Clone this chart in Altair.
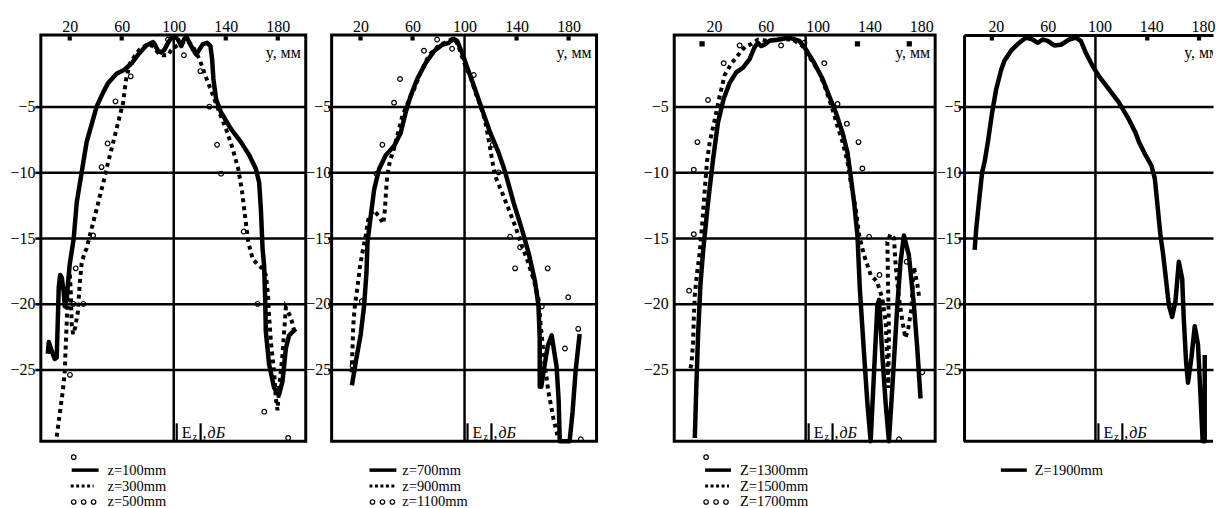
import altair as alt
import pandas as pd

FONT = "Liberation Serif"
Y_MIN, Y_MAX = -30.45, 0.45
PLOT_H = 408
X_LABELS = [20, 60, 100, 140, 180]
Y_TICKS = [-5, -10, -15, -20, -25]
GRID_MM = 100

# ---------------- Panel 1 ----------------
P1_TOP_TICKS = [20, 60, 140, 180]
P1_LABELS = ["z=100mm", "z=300mm", "z=500mm"]
P1_Z100 = [(3.2, -23.8), (3.9, -22.9), (6.2, -23.6), (8.5, -24.2), (10, -24.1), (10.8, -21.4),
           (11.6, -18.7), (12.7, -17.8), (13.9, -18.0), (15.4, -19.1), (16.2, -20.2), (17.7, -19.6),
           (20, -17), (23, -15.1), (25.4, -12.3), (29.2, -10), (33, -7.7), (40.7, -5), (45.8, -3.9),
           (49.6, -3.2), (56, -2.5), (62.1, -2.2), (68, -1.67), (72.6, -1.05), (78.9, -0.35),
           (84.1, -0.1), (85.3, -0.25), (87.9, -0.75), (90.4, -0.9), (93, -0.65), (95.6, -0.15),
           (98.1, 0.2), (100.6, 0.35), (103.2, 0.1), (105.8, -0.4), (107.8, 0.1), (109.6, 0.35),
           (112.1, -0.15), (114.7, -0.65), (117.3, -1.05), (119.8, -0.65), (122.4, -0.25),
           (125.7, -0.15), (128.2, -0.4), (129.5, -1.4), (130.5, -2.9), (132.6, -4.45),
           (136.4, -5.45), (144, -6.7), (151.7, -7.7), (158.1, -8.7), (163.2, -9.75), (165.7, -10.8),
           (167, -12.8), (168.3, -15.8), (169.5, -17.1), (170.3, -19.6), (170.8, -22.1),
           (173.3, -24.6), (177.2, -26.4), (181, -26.9), (183.6, -25.9), (186.2, -23.4),
           (188.7, -22.4), (193.8, -21.9)]
P1_Z300 = [(10, -30.1), (12.3, -28.4), (14.6, -26.7), (16.2, -25.2), (16.9, -23.3), (17.7, -21.4),
           (18.5, -19.5), (19.3, -18.0), (20, -17.6), (20.8, -19), (21.5, -21.5), (22.6, -22.3),
           (24.2, -21.8), (26.3, -20.6), (27.6, -18.6), (29.2, -16.9), (31.5, -16.1), (33, -15.8),
           (35.5, -14.8), (38.1, -13.8), (40.7, -12.8), (43.2, -11.8), (45.8, -10.8), (48.3, -9.75),
           (50.9, -8.7), (53.5, -7.7), (56, -6.7), (58.5, -5.7), (61.1, -4.7), (62.3, -3.7),
           (63.6, -2.8), (66.2, -1.75), (70, -1.15), (73.8, -0.65), (80.2, -0.25), (84, -0.4),
           (87.9, -0.9), (92, -1.1), (95.6, -1.1), (98, -0.7), (100.6, -0.5), (105, -0.2), (110, 0),
           (114, -0.3), (119.8, -1.4), (124.9, -2.8), (130, -4.1), (135.1, -5.45), (140.2, -6.7),
           (145.3, -8.2), (149.6, -9.75), (152.3, -11.3), (154.8, -13.3), (157.3, -15.3),
           (160.7, -16.6), (164.5, -17), (168, -17.3), (170.8, -17.8), (172.5, -19.3), (173.3, -20.9),
           (174.7, -22.9), (177.2, -25.2), (178.5, -27.2), (179.8, -28.1), (181, -26.4),
           (183.6, -23.9), (184.9, -22.1), (186.2, -20.3), (190, -21), (192.5, -22)]
P1_Z500 = [(20.2, -25.4), (22.8, -20), (24.6, -17.3), (30.5, -20), (38, -14.8), (44.5, -9.6),
           (49.1, -7.8), (55.2, -4.6), (66.9, -2.7), (95.6, 0.1), (107.8, -1.1), (120.5, -2.3),
           (127.4, -5), (133.3, -7.9), (136.4, -10.1), (153.8, -14.5), (164.5, -20), (169.6, -28.2),
           (188, -30.2)]

# ---------------- Panel 2 ----------------
P2_TOP_TICKS = [20, 60, 140, 180]
P2_LABELS = ["z=700mm", "z=900mm", "z=1100mm"]
P2_Z700 = [(13.4, -26.2), (16.4, -24.4), (20.2, -22.3), (22.8, -20.1), (24.6, -17.6), (25.4, -15.3),
           (27.9, -13.3), (30.5, -11.3), (34.3, -9.75), (39.4, -8.7), (45.8, -8), (50.9, -7),
           (54.7, -5.45), (58.5, -4.2), (63.6, -2.9), (70, -1.7), (76.4, -0.8), (82.8, -0.3),
           (87.9, -0.15), (91.7, 0.15), (94.3, 0), (98.1, -0.9), (102, -2), (107.1, -3.4),
           (113.4, -5.2), (119.8, -7), (126.2, -8.5), (131.3, -10), (137.7, -12.3), (144, -14.3),
           (149.2, -16.1), (154.2, -18.3), (156.8, -20.1), (157.8, -22.6), (157.8, -26.3),
           (159, -26.3), (161.5, -24.7), (164, -23.2), (167, -22.4), (170.8, -24.8), (172.4, -27.4),
           (173.2, -30.45), (180.8, -30.45), (183.1, -28.2), (185.4, -25.1), (188.5, -22.3)]
P2_Z900 = [(13.2, -25.2), (13.9, -23.2), (14.4, -21.7), (15.6, -20.2), (17.7, -18.7), (19.5, -17.2),
           (21.5, -16.1), (24, -14.8), (26.3, -13.4), (30, -12.9), (34, -13.3), (37.5, -13.9),
           (38.8, -12.8), (39.6, -11.5), (40.5, -10.3), (42.5, -9.2), (46, -8.1), (49.6, -6.7),
           (52.2, -5.7), (56.5, -4.7), (61.1, -3.7), (66.2, -2.4), (72.6, -1.1), (80.3, -0.35),
           (87.9, 0), (91.7, 0.2), (95, -0.3), (98, -1.2), (100.6, -1.9), (104.4, -2.7),
           (108.3, -3.9), (112.1, -4.9), (115.9, -6.1), (118.5, -7.5), (121.1, -9), (123.6, -10.3),
           (128.7, -11.5), (133.9, -12.8), (139, -14.1), (144.1, -15.6), (148, -16.6), (153, -18.1),
           (156.8, -19.6), (158.8, -21.9), (161.4, -24.4), (164.5, -26.7), (168.3, -28.7),
           (172.1, -30.3)]
P2_Z1100 = [(13.9, -24.7), (21, -19.8), (32.3, -10.1), (36.8, -7.9), (45.8, -4.7), (50.4, -2.9),
            (68.8, -0.75), (78.9, 0.1), (90.4, -0.6), (107.1, -2.6), (121.6, -7.9), (126.2, -10),
            (135, -14.9), (138.9, -17.3), (142.7, -15.7), (159.4, -20.2), (163.9, -17.3),
            (177.2, -23.4), (179.7, -19.5), (187.4, -21.9), (189.4, -30.3)]

# ---------------- Panel 3 ----------------
P3_TOP_TICKS = [20, 140, 180]
P3_LABELS = ["Z=1300mm", "Z=1500mm", "Z=1700mm"]
P3_Z1300 = [(14.4, -30.2), (15.6, -26.2), (16.9, -22.4), (18.7, -18.6), (20.8, -16), (24.6, -12.3),
            (28.5, -9), (32.3, -6.2), (36.7, -4.4), (41.3, -3.2), (46.4, -2.4), (51.5, -2.05),
            (56.7, -1.4), (60.5, -0.5), (63.1, -0.15), (65.6, -0.4), (68.2, -0.3), (72.1, 0),
            (79.8, 0.1), (87.4, 0.25), (95.1, 0), (100.2, -0.65), (106.7, -1.7), (113.1, -2.9),
            (118.2, -4.2), (123.3, -5.45), (128.5, -7), (132.3, -8.5), (134.8, -10.3),
            (137.4, -12.3), (140, -14.8), (141.8, -18.8), (145.1, -23.8), (147.7, -27.6),
            (150.2, -30.45), (152.8, -25.2), (155.4, -20.1), (156.7, -19.7), (159.2, -23.9),
            (161.8, -27.6), (164.3, -30.45), (166.9, -26.4), (170.8, -20.1), (173.3, -16.8),
            (175.9, -14.8), (179.7, -16.3), (183.6, -20.1), (186.2, -23.4), (188.7, -27.2)]
P3_Z1500 = [(11, -24.9), (11.8, -24.6), (13.1, -22.9), (13.6, -21.1), (14.4, -19.3), (16.2, -17.6),
            (18.2, -16.1), (20.2, -13.8), (22.1, -11.3), (23.8, -9.2), (25.9, -7.7), (29.8, -6),
            (33.6, -4.2), (37.5, -2.6), (42.5, -1.75), (47.7, -1.1), (53.6, -0.4), (57.9, -0.25),
            (63.1, 0.1), (70, 0), (80, 0.15), (90, 0.1), (97.7, -0.4), (104, -1.4), (110.5, -2.4),
            (115.6, -3.7), (120.7, -5.2), (124.6, -6.5), (128.5, -7.7), (132.3, -9.2),
            (134.9, -10.8), (138.7, -12.8), (141.3, -14.8), (145.1, -16.3), (150.2, -17.8),
            (155, -18.3), (159, -19.5), (161.8, -21.4), (163.1, -24.4), (163.8, -26.4),
            (164.3, -22), (163.5, -18), (163.1, -15.3), (165.5, -14.7), (168.2, -15),
            (169.5, -17.1), (172.1, -19.6), (175, -21.5), (177, -22.6), (179, -22), (181.5, -20.5),
            (183.6, -17.2), (186.2, -18.5), (187.5, -19.4)]
P3_Z1700 = [(10, -19), (13.6, -14.7), (13.6, -9.8), (16.4, -7.7), (24.6, -4.5), (36.7, -1.7),
            (49, -0.35), (81, -0.35), (99, -0.15), (114.4, -1.7), (124.6, -4.8), (131.8, -6.3),
            (140.8, -7.7), (143.8, -9.7), (149, -14.9), (157, -17.8), (172.1, -30.3), (178, -16.8),
            (190, -25.2)]

# ---------------- Panel 4 ----------------
P4_TOP_TICKS = [20, 140, 180]
P4_LABELS = ["Z=1900mm"]
P4_Z1900 = [(6.7, -15.9), (7.9, -14.3), (10.5, -11.8), (12.5, -10), (14.4, -9.2), (16.9, -7.7),
            (20.2, -5.45), (23.3, -3.7), (27.2, -2.2), (29.8, -1.5), (34.8, -0.75), (40, -0.25),
            (46.4, 0.25), (51.5, 0.1), (55.4, -0.15), (59.2, 0.1), (63.1, 0), (68.2, -0.35),
            (73.3, -0.3), (79.8, 0.1), (84.8, 0.25), (88.7, 0), (92.5, -0.9), (97.7, -1.9),
            (102.8, -2.7), (110.5, -3.7), (118.2, -4.7), (125.9, -6), (131, -7), (133.6, -7.7),
            (138.7, -8.7), (143.3, -9.5), (145.9, -10.5), (147.7, -12.3), (150.2, -14.8),
            (152.1, -16.1), (154.1, -17.8), (156.7, -20.1), (159.2, -21), (161.8, -19.8),
            (164.4, -16.8), (167, -18.1), (168.2, -21.1), (170, -24.4), (171.5, -26), (174.1, -24.1),
            (176.7, -21.7), (179.2, -23.1), (181, -26.7), (182.8, -30.45), (184.4, -30.45),
            (184.4, -23.9)]

ONE = pd.DataFrame({"k": [0]})


def frame(pairs):
    return pd.DataFrame({"mm": [p[0] for p in pairs], "db": [p[1] for p in pairs],
                         "i": list(range(len(pairs)))})


def build_panel(c):
    xs = alt.Scale(domain=c["xdom"], nice=False, zero=False)
    ys = alt.Scale(domain=[Y_MIN, Y_MAX], nice=False, zero=False)
    W = c["width"]
    open_right = c.get("open_right", False)
    xaxis = alt.Axis(orient="top", values=X_LABELS, title=None, ticks=False, grid=False,
                     domain=open_right, domainColor="black", domainWidth=3,
                     labelFont=FONT, labelFontSize=16, labelColor="black", labelPadding=0,
                     labelOffset=c["xlab_off"], labelFlush=False, labelOverlap=False,
                     minExtent=24, maxExtent=60, format="d")
    yaxis = alt.Axis(orient="left", values=Y_TICKS, title=None, grid=True, gridColor="black",
                     gridWidth=2.5, ticks=c["ytick"] > 0, tickSize=c["ytick"], tickWidth=2.5,
                     tickColor="black", domain=open_right, domainColor="black", domainWidth=3,
                     labelFont=FONT, labelFontSize=16, labelColor="black",
                     labelPadding=c["ypad"], labelOverlap=False, labelFlush=False,
                     minExtent=c["yext"], maxExtent=120, format="d")
    xd = lambda v: alt.XDatum(v, type="quantitative", scale=xs, axis=xaxis)
    yd = lambda v: alt.YDatum(v, type="quantitative", scale=ys, axis=yaxis)
    xf = alt.X("mm:Q", scale=xs, axis=xaxis)
    yf = alt.Y("db:Q", scale=ys, axis=yaxis)

    layers = []
    layers.append(alt.Chart(ONE).mark_rule(color="black", strokeWidth=2.5).encode(x=xd(GRID_MM)))
    if open_right:
        layers.append(alt.Chart(ONE).mark_rule(color="black", strokeWidth=3).encode(y=yd(Y_MIN)))
    layers.append(alt.Chart(pd.DataFrame({"mm": c["ticks"]})).mark_square(
        color="black", size=c["sq"], yOffset=c["sq_off"], opacity=1).encode(x=xf, y=yd(Y_MAX)))
    # curves
    for kind, pairs in c["series"]:
        df = frame(pairs)
        if kind == "solid":
            m = alt.Chart(df).mark_line(color="black", strokeWidth=4.5, strokeJoin="round",
                                        strokeCap="butt").encode(x=xf, y=yf, order="i:Q")
        elif kind == "dotted":
            m = alt.Chart(df).mark_line(color="black", strokeWidth=4, strokeDash=[4, 4],
                                        strokeCap="butt").encode(x=xf, y=yf, order="i:Q")
        else:
            m = alt.Chart(df).mark_point(shape="circle", filled=False, color="black", size=22,
                                         strokeWidth=1.2, opacity=1).encode(x=xf, y=yf)
        layers.append(m)
    # "y, мм"
    if open_right:
        layers.append(alt.Chart(ONE).mark_text(text="y, мм", font=FONT, fontSize=16, color="black",
                                               align="left", baseline="middle", clip=True).encode(
            x=alt.value(221), y=alt.value(18)))
    else:
        layers.append(alt.Chart(ONE).mark_text(text="y, мм", font=FONT, fontSize=16, color="black",
                                               align="right", baseline="middle").encode(
            x=alt.value(W - 5), y=alt.value(18)))
    # |Ez|, дБ label next to the 100 mm grid line
    for off in (3, 27):
        layers.append(alt.Chart(ONE).mark_rule(color="black", strokeWidth=2.2, xOffset=off).encode(
            x=xd(GRID_MM), y=alt.value(PLOT_H - 18), y2=alt.value(PLOT_H - 1)))
    for txt, off, size, base, style in (("E", 8, 16, PLOT_H - 3, "normal"),
                                        ("z", 19, 10, PLOT_H - 1, "normal"),
                                        (",", 29, 16, PLOT_H - 3, "normal"),
                                        ("дБ", 34, 16, PLOT_H - 3, "italic")):
        layers.append(alt.Chart(ONE).mark_text(text=txt, font=FONT, fontSize=size, fontStyle=style,
                                               color="black", align="left", baseline="alphabetic",
                                               dx=off).encode(x=xd(GRID_MM), y=alt.value(base)))
    # legend under the panel
    lg = c["legend"]
    if "lone" in lg:
        lx, ly = lg["lone"]
        layers.append(alt.Chart(ONE).mark_point(shape="circle", filled=False, color="black", size=20,
                                                strokeWidth=1.2, opacity=1).encode(
            x=alt.value(lx), y=alt.value(ly)))
    for (kind, x0, x1, sy, tx, ty), label in zip(lg["rows"], c["labels"]):
        if kind == "solid":
            layers.append(alt.Chart(ONE).mark_rule(color="black", strokeWidth=3.5).encode(
                x=alt.value(x0), x2=alt.value(x1), y=alt.value(sy)))
        elif kind == "dotted":
            layers.append(alt.Chart(ONE).mark_rule(color="black", strokeWidth=3, strokeDash=[3, 2.5]).encode(
                x=alt.value(x0), x2=alt.value(x1), y=alt.value(sy)))
        else:
            for k in range(3):
                layers.append(alt.Chart(ONE).mark_point(shape="circle", filled=False, color="black",
                                                        size=20, strokeWidth=1.2, opacity=1).encode(
                    x=alt.value(x0 + 3 + 10 * k), y=alt.value(sy)))
        layers.append(alt.Chart(pd.DataFrame({"t": [label]})).mark_text(
            font=FONT, fontSize=14.5, color="black", align="left", baseline="alphabetic").encode(
            text="t:N", x=alt.value(tx), y=alt.value(ty)))

    if open_right:
        view = alt.ViewBackground(stroke="transparent", fill="white")
    else:
        view = alt.ViewBackground(stroke="black", strokeWidth=3, fill="white")
    return alt.layer(*layers).properties(width=W, height=PLOT_H, view=view)


p1 = build_panel(dict(
    width=266, xdom=[-2.2, 201.5], xlab_off=0, ytick=6, ypad=0, yext=39,
    ticks=P1_TOP_TICKS, sq=18, sq_off=3.5, labels=P1_LABELS,
    series=[("solid", P1_Z100), ("dotted", P1_Z300), ("circles", P1_Z500)],
    legend=dict(lone=(33, 424), rows=[("solid", 31, 58, 437, 67, 442),
                                      ("dotted", 30, 53, 453, 67, 458),
                                      ("circles", 30, 0, 469, 67, 473)])))
p2 = build_panel(dict(
    width=266, xdom=[-2.2, 201.5], xlab_off=0, ytick=4, ypad=-3, yext=30.5,
    ticks=P2_TOP_TICKS, sq=18, sq_off=3.5, labels=P2_LABELS,
    series=[("solid", P2_Z700), ("dotted", P2_Z900), ("circles", P2_Z1100)],
    legend=dict(rows=[("solid", 38, 65, 437, 71, 442),
                      ("dotted", 38, 63, 453, 71, 458),
                      ("circles", 38, 0, 469, 71, 473)])))
p3 = build_panel(dict(
    width=262, xdom=[-1.5, 200], xlab_off=12, ytick=0, ypad=6, yext=82.5,
    ticks=P3_TOP_TICKS, sq=28, sq_off=9, labels=P3_LABELS,
    series=[("solid", P3_Z1300), ("dotted", P3_Z1500), ("circles", P3_Z1700)],
    legend=dict(lone=(32, 424), rows=[("solid", 31, 57, 437, 66, 442),
                                      ("dotted", 31, 55, 453, 66, 458),
                                      ("circles", 29, 0, 469, 66, 473)])))
p4 = build_panel(dict(
    width=250, xdom=[-1.5, 190.8], xlab_off=4, ytick=6, ypad=-3, yext=34.5,
    ticks=P4_TOP_TICKS, sq=18, sq_off=3.5, labels=P4_LABELS, open_right=True,
    series=[("solid", P4_Z1900)],
    legend=dict(rows=[("solid", 37, 63, 437, 71, 442)])))

chart = alt.hconcat(p1, p2, p3, p4, spacing=-8, bounds="full").properties(
    padding={"left": 0, "top": 8, "right": 0, "bottom": 0}
).configure(background="white").configure_axis(
    labelFont=FONT, labelFontSize=16, labelColor="black", titleFont=FONT
).configure_text(font=FONT)

chart.save("out.html", embed_options={"renderer": "svg", "actions": False})
